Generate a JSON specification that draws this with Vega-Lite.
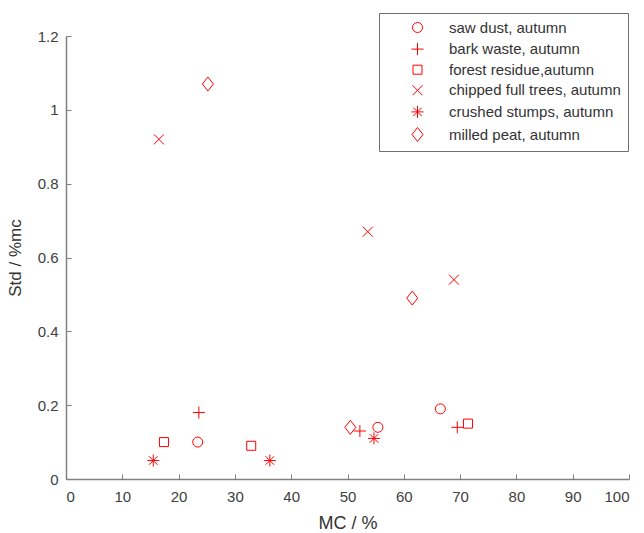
{
  "$schema": "https://vega.github.io/schema/vega-lite/v6.json",
  "autosize": "none",
  "width": 563,
  "height": 443,
  "padding": {"left": 66, "top": 36, "right": 15, "bottom": 54},
  "background": "white",
  "config": {
    "view": {"stroke": null},
    "font": "Liberation Sans"
  },
  "data": {
    "values": [
      {"mc": 23.4, "std": 0.10, "series": "saw dust, autumn"},
      {"mc": 55.4, "std": 0.14, "series": "saw dust, autumn"},
      {"mc": 66.5, "std": 0.19, "series": "saw dust, autumn"},
      {"mc": 23.6, "std": 0.18, "series": "bark waste, autumn"},
      {"mc": 52.2, "std": 0.13, "series": "bark waste, autumn"},
      {"mc": 69.5, "std": 0.14, "series": "bark waste, autumn"},
      {"mc": 17.4, "std": 0.10, "series": "forest residue,autumn"},
      {"mc": 32.9, "std": 0.09, "series": "forest residue,autumn"},
      {"mc": 71.4, "std": 0.15, "series": "forest residue,autumn"},
      {"mc": 16.5, "std": 0.92, "series": "chipped full trees, autumn"},
      {"mc": 53.6, "std": 0.67, "series": "chipped full trees, autumn"},
      {"mc": 68.9, "std": 0.54, "series": "chipped full trees, autumn"},
      {"mc": 15.5, "std": 0.05, "series": "crushed stumps, autumn"},
      {"mc": 36.2, "std": 0.05, "series": "crushed stumps, autumn"},
      {"mc": 54.7, "std": 0.11, "series": "crushed stumps, autumn"},
      {"mc": 25.2, "std": 1.07, "series": "milled peat, autumn"},
      {"mc": 61.5, "std": 0.49, "series": "milled peat, autumn"},
      {"mc": 50.5, "std": 0.14, "series": "milled peat, autumn"}
    ]
  },
  "mark": {"type": "point", "filled": false, "stroke": "#ff0000", "strokeWidth": 1, "size": 100, "opacity": 1},
  "encoding": {
    "x": {
      "field": "mc", "type": "quantitative",
      "scale": {"domain": [0, 100], "nice": false, "zero": false},
      "axis": {
        "title": "MC / %",
        "values": [0, 10, 20, 30, 40, 50, 60, 70, 80, 90, 100],
        "grid": false,
        "domainColor": "#808080", "domainWidth": 1.5,
        "tickColor": "#808080", "tickWidth": 1, "tickSize": -5,
        "labelFontSize": 15, "labelColor": "#404040", "labelPadding": 15,
        "titleFontSize": 18, "titleFontWeight": "normal", "titleColor": "#333333", "titlePadding": 10
      }
    },
    "y": {
      "field": "std", "type": "quantitative",
      "scale": {"domain": [0, 1.2], "nice": false, "zero": false},
      "axis": {
        "title": "Std / %mc",
        "values": [0, 0.2, 0.4, 0.6, 0.8, 1, 1.2],
        "format": "~g",
        "grid": false,
        "domainColor": "#808080", "domainWidth": 1.5,
        "tickColor": "#808080", "tickWidth": 1, "tickSize": -5,
        "labelFontSize": 15, "labelColor": "#404040", "labelPadding": 13,
        "titleFontSize": 17, "titleFontWeight": "normal", "titleColor": "#333333", "titlePadding": 13
      }
    },
    "shape": {
      "field": "series", "type": "nominal",
      "scale": {
        "domain": ["saw dust, autumn", "bark waste, autumn", "forest residue,autumn", "chipped full trees, autumn", "crushed stumps, autumn", "milled peat, autumn"],
        "range": [
          "circle",
          "M-1.2,0L1.2,0M0,-1.2L0,1.2",
          "M-0.9,-0.9L0.9,-0.9L0.9,0.9L-0.9,0.9Z",
          "M-1,-1L1,1M-1,1L1,-1",
          "M-1.2,0L1.2,0M0,-1.2L0,1.2M-0.85,-0.85L0.85,0.85M-0.85,0.85L0.85,-0.85",
          "M0,-1.4L1.1,0L0,1.4L-1.1,0Z"
        ]
      },
      "legend": {
        "title": null,
        "orient": "none",
        "legendX": 313,
        "legendY": -23,
        "padding": 7,
        "strokeColor": "#707070",
        "fillColor": "white",
        "symbolSize": 100,
        "symbolStrokeColor": "#ff0000",
        "symbolFillColor": "transparent",
        "symbolStrokeWidth": 1,
        "symbolOffset": 24,
        "labelOffset": 24,
        "labelFontSize": 15,
        "labelColor": "#333333",
        "labelLimit": 400,
        "rowPadding": 4.6
      }
    }
  }
}
